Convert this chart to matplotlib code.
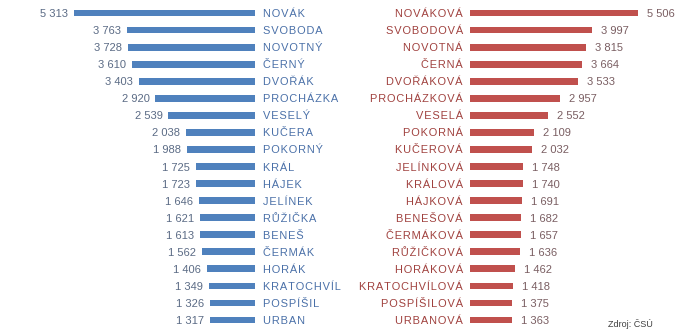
import matplotlib
matplotlib.use("Agg")
import matplotlib.pyplot as plt

plt.rcParams['font.family'] = ['Liberation Sans', 'DejaVu Sans']

men_names = ["NOVÁK", "SVOBODA", "NOVOTNÝ", "ČERNÝ", "DVOŘÁK", "PROCHÁZKA", "VESELÝ",
             "KUČERA", "POKORNÝ", "KRÁL", "HÁJEK", "JELÍNEK", "RŮŽIČKA", "BENEŠ",
             "ČERMÁK", "HORÁK", "KRATOCHVÍL", "POSPÍŠIL", "URBAN"]
men_values = [5313, 3763, 3728, 3610, 3403, 2920, 2539, 2038, 1988, 1725, 1723, 1646,
              1621, 1613, 1562, 1406, 1349, 1326, 1317]

women_names = ["NOVÁKOVÁ", "SVOBODOVÁ", "NOVOTNÁ", "ČERNÁ", "DVOŘÁKOVÁ", "PROCHÁZKOVÁ",
               "VESELÁ", "POKORNÁ", "KUČEROVÁ", "JELÍNKOVÁ", "KRÁLOVÁ", "HÁJKOVÁ",
               "BENEŠOVÁ", "ČERMÁKOVÁ", "RŮŽIČKOVÁ", "HORÁKOVÁ", "KRATOCHVÍLOVÁ",
               "POSPÍŠILOVÁ", "URBANOVÁ"]
women_values = [5506, 3997, 3815, 3664, 3533, 2957, 2552, 2109, 2032, 1748, 1740, 1691,
                1682, 1657, 1636, 1462, 1418, 1375, 1363]

W, H = 700, 330
fig = plt.figure(figsize=(7, 3.3), dpi=100)

row0, step = 13.0, 17.06
ylim = ((H - row0) / step, -row0 / step)

def px(v):
    return v * 72 / 100.0

def spaced(s):
    # slightly letter-spaced caps using hair spaces
    return "\u200a".join(s)

blue = "#4F81BD"
red = "#C0504D"
fs_name = 7.9
fs_val = 8

# Left panel: men, bars growing leftwards from x=255
axL = fig.add_axes([0, 0, 255 / W, 1])
axL.set_xlim(255 / 0.0341, 0)
axL.set_ylim(*ylim)
axL.axis("off")
ys = list(range(len(men_names)))
axL.barh(ys, men_values, height=0.4, color=blue)
for y, name, v in zip(ys, men_names, men_values):
    axL.annotate(f"{v:,}".replace(",", " "), xy=(v, y), xytext=(-px(6), 0),
                 textcoords="offset points", ha="right", va="center_baseline",
                 fontsize=fs_val, color="#5B6B85", annotation_clip=False)
    axL.annotate(spaced(name), xy=(0, y), xytext=(px(8), 0), textcoords="offset points",
                 ha="left", va="center_baseline", fontsize=fs_name, color="#4A70A8",
                 annotation_clip=False)

# Right panel: women, bars growing rightwards from x=470
axR = fig.add_axes([470 / W, 0, 230 / W, 1])
axR.set_xlim(0, 230 / 0.0305)
axR.set_ylim(*ylim)
axR.axis("off")
axR.barh(ys, women_values, height=0.4, color=red)
for y, name, v in zip(ys, women_names, women_values):
    axR.annotate(f"{v:,}".replace(",", " "), xy=(v, y), xytext=(px(9), 0),
                 textcoords="offset points", ha="left", va="center_baseline",
                 fontsize=fs_val, color="#7A5E62", annotation_clip=False)
    axR.annotate(spaced(name), xy=(0, y), xytext=(-px(7), 0), textcoords="offset points",
                 ha="right", va="center_baseline", fontsize=fs_name, color="#A0413E",
                 annotation_clip=False)

fig.text(608 / W, 1 - 329 / H, "Zdroj: ČSÚ", ha="left", va="bottom",
         fontsize=6.5, color="#404040")

fig.savefig("out.png", dpi=100)
